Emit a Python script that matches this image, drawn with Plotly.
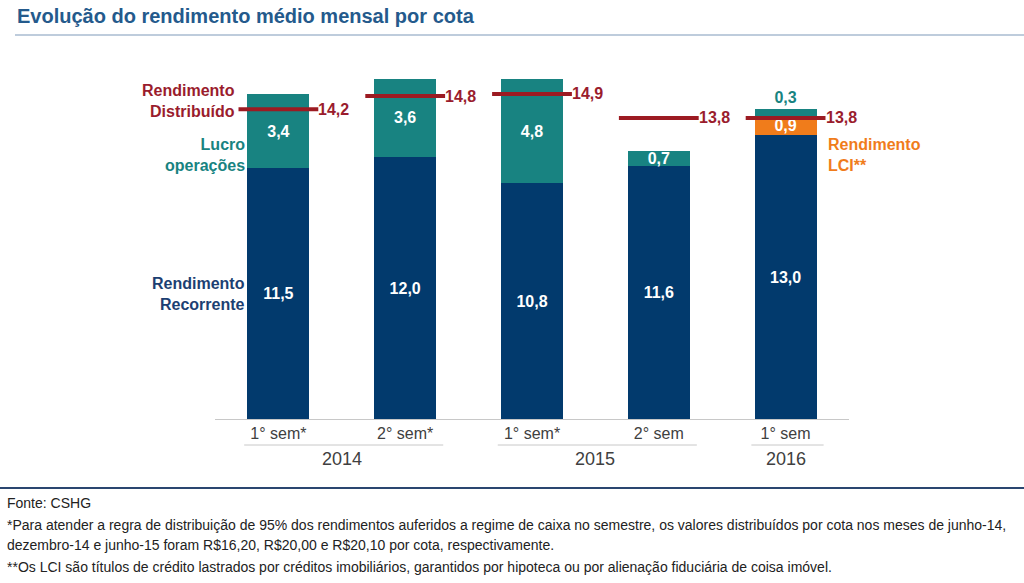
import plotly.graph_objects as go

# ---- data ----
years = ["2014", "2014", "2015", "2015", "2016"]
semesters = ["1° sem*", "2° sem*", "1° sem*", "2° sem", "1° sem"]
recorrente = [11.5, 12.0, 10.8, 11.6, 13.0]
lci = [None, None, None, None, 0.9]
lucro = [3.4, 3.6, 4.8, 0.7, 0.3]
distribuido = [14.2, 14.8, 14.9, 13.8, 13.8]

NAVY = "#023A6D"
TEAL = "#188381"
ORANGE = "#F07C1B"
RED = "#9C1B22"
RED_TXT = "#9A1C2D"
GRAY = "#404040"
FONT = "Liberation Sans"

W, H = 1024, 583
L, R, T, B = 215, 175, 59, 164
PW, PH = W - L - R, H - T - B


def xp(px):
    return (px - L) / PW


def yp(py):
    return (H - B - py) / PH


def fmt(v):
    return None if v is None else f"{v:.1f}".replace(".", ",")


# unique category keys (year + semester), shown with semester labels only
cats = [f"{yr} {sm}" for yr, sm in zip(years, semesters)]
n = len(cats)

fig = go.Figure()
fig.add_trace(go.Bar(
    x=cats, y=recorrente, marker=dict(color=NAVY, line=dict(width=0)),
    name="Rendimento Recorrente",
    text=[fmt(v) for v in recorrente], textposition="inside",
    insidetextanchor="middle", textangle=0, constraintext="none",
    textfont=dict(family=FONT, size=16, color="white", weight="bold"),
))
fig.add_trace(go.Bar(
    x=cats, y=lci, marker=dict(color=ORANGE, line=dict(width=0)),
    name="Rendimento LCI",
    text=[fmt(v) for v in lci], textposition="inside",
    insidetextanchor="middle", textangle=0, constraintext="none",
    textfont=dict(family=FONT, size=16, color="white", weight="bold"),
))
last = len(lucro) - 1
fig.add_trace(go.Bar(
    x=cats, y=lucro, marker=dict(color=TEAL, line=dict(width=0)),
    name="Lucro operações",
    text=[fmt(v) for v in lucro],
    textposition=["outside" if i == last else "inside" for i in range(len(lucro))],
    insidetextanchor="middle", textangle=0, constraintext="none",
    textfont=dict(family=FONT, size=16, weight="bold",
                  color=[TEAL if i == last else "white" for i in range(len(lucro))]),
    cliponaxis=False,
))
fig.add_trace(go.Scatter(
    x=cats, y=distribuido, mode="markers", name="Rendimento Distribuído",
    marker=dict(symbol="line-ew", size=57, line=dict(width=4, color=RED)),
    cliponaxis=False,
))

annotations = []
for c, v in zip(cats, distribuido):
    annotations.append(dict(
        x=c, y=v, xref="x", yref="y", text=fmt(v), showarrow=False,
        xanchor="left", yanchor="middle", xshift=38,
        font=dict(family=FONT, size=16, color=RED_TXT, weight="bold"),
    ))

# series labels
series_labels = [
    ("Rendimento<br>Distribuído", RED_TXT, 237, 100.5, "right"),
    ("Lucro<br>operações", TEAL, 247, 154.5, "right"),
    ("Rendimento<br>Recorrente", "#1C3F72", 247, 293.5, "right"),
    ("Rendimento<br>LCI**", ORANGE, 826, 154.5, "left"),
]
for txt, col, px, py, anc in series_labels:
    annotations.append(dict(
        x=xp(px), y=yp(py), xref="paper", yref="paper", text=txt,
        showarrow=False, xanchor=anc, yanchor="middle", align=anc,
        font=dict(family=FONT, size=16, color=col, weight="bold"),
    ))

# footnotes
notes = [
    "Fonte: CSHG",
    "*Para atender a regra de distribuição de 95% dos rendimentos auferidos a regime de caixa no semestre, os valores distribuídos por cota nos meses de junho-14,",
    "dezembro-14 e junho-15 foram R$16,20, R$20,00 e R$20,10 por cota, respectivamente.",
    "**Os LCI são títulos de crédito lastrados por créditos imobiliários, garantidos por hipoteca ou por alienação fiduciária de coisa imóvel.",
]
note_y = [503, 525, 545, 567]
for txt, py in zip(notes, note_y):
    annotations.append(dict(
        x=xp(5), y=yp(py), xref="paper", yref="paper", text=txt,
        showarrow=False, xanchor="left", yanchor="middle",
        font=dict(family=FONT, size=14, color="#222222"),
    ))

shapes = []
# title underline
shapes.append(dict(type="line", xref="paper", yref="paper",
                   x0=xp(15), x1=xp(1024), y0=yp(35), y1=yp(35),
                   line=dict(color="#A9BBD1", width=1.5)))
# footer rule
shapes.append(dict(type="line", xref="paper", yref="paper",
                   x0=xp(0), x1=xp(1024), y0=yp(488), y1=yp(488),
                   line=dict(color="#2A4670", width=2)))
# year groups: underline + label
groups = []
for i, yr in enumerate(years):
    if groups and groups[-1][0] == yr:
        groups[-1][2] = i
    else:
        groups.append([yr, i, i])
for yr, i0, i1 in groups:
    shapes.append(dict(type="line", xref="paper", yref="paper",
                       x0=(i0 + 0.5 - 0.27) / n, x1=(i1 + 0.5 + 0.3) / n,
                       y0=yp(445), y1=yp(445),
                       line=dict(color="#C8C8C8", width=1)))
    annotations.append(dict(
        x=((i0 + i1) / 2 + 0.5) / n, y=yp(459), xref="paper", yref="paper",
        text=yr, showarrow=False, xanchor="center", yanchor="middle",
        font=dict(family=FONT, size=18, color=GRAY),
    ))

fig.update_layout(
    width=W, height=H,
    margin=dict(l=L, r=R, t=T, b=B, pad=0),
    paper_bgcolor="white", plot_bgcolor="white",
    barmode="stack", bargap=0.51, showlegend=False,
    title=dict(text="Evolução do rendimento médio mensal por cota",
               x=17 / W, xanchor="left", xref="container",
               y=1 - 16 / H, yanchor="middle", yref="container",
               font=dict(family=FONT, size=20, color="#245A8C", weight="bold")),
    xaxis=dict(type="category", range=[-0.5, n - 0.5],
               tickmode="array", tickvals=cats, ticktext=semesters,
               showline=True, linecolor="#C8C8C8",
               linewidth=1, ticks="",
               tickfont=dict(family=FONT, size=16, color=GRAY),
               showgrid=False, zeroline=False),
    yaxis=dict(range=[0, 16.5], visible=False, showgrid=False, zeroline=False),
    annotations=annotations, shapes=shapes,
)

fig.write_html("out.html")
